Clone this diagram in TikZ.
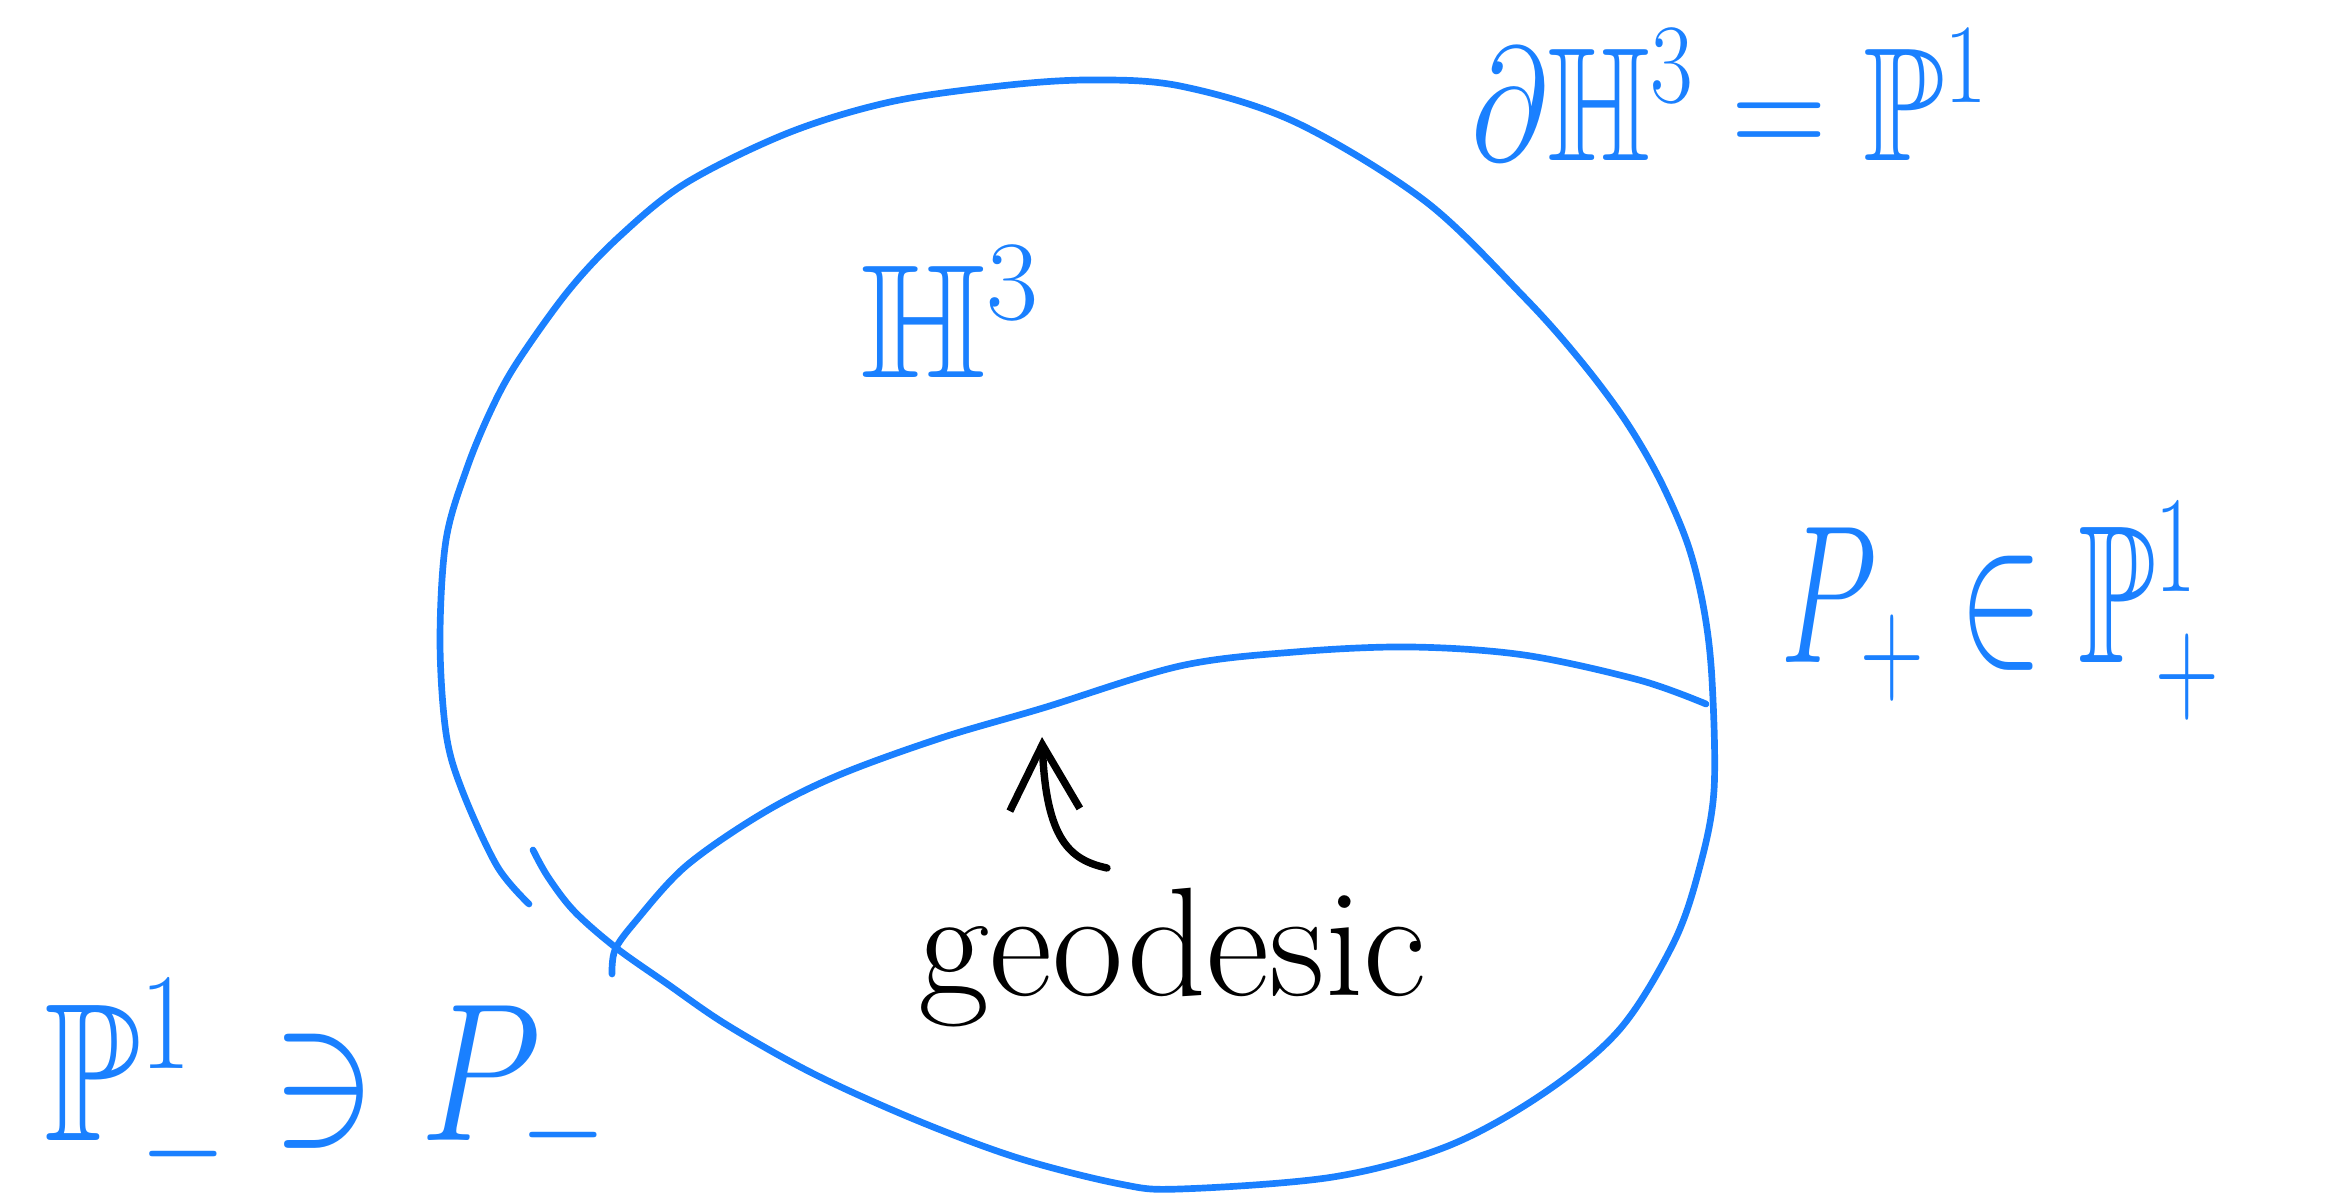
\RequirePackage{fix-cm}
\documentclass[tikz,border=0pt]{standalone}
\usepackage{amssymb}
\usetikzlibrary{arrows.meta}
\definecolor{penblue}{RGB}{26,128,255}

\begin{document}
\begin{tikzpicture}[
    x=0.01cm, y=-0.01cm,
    pen/.style={draw=penblue, line width=1.9pt, line cap=round, line join=round},
    ink/.style={draw=black, line width=2.1pt, line cap=round, line join=round},
    mathlabel/.style={text=penblue, inner sep=0pt, anchor=base west, font=\fontsize{#1}{#1}\selectfont},
    pointer/.style={ink, -{Straight Barb[length=6.5mm, width=7mm]}},
  ]
  \useasboundingbox (0,0) rectangle (2331,1195);

  % Boundary sphere
  \draw[pen] plot[smooth, tension=0.55] coordinates {(529,904) (497,866) (462,790) (446,733) (440,640) (446,540) (467,468) (492,408) (518,361) (569,290) (620,236) (686,183) (788,133) (890,102) (1000,86) (1089,80) (1180,86) (1295,122) (1425,201) (1524,297) (1580,360) (1625,420) (1660,480) (1688,545) (1704,610) (1712,680) (1714,790) (1700,866) (1674,942) (1620,1029) (1544,1093) (1448,1146) (1333,1177) (1180,1189) (1120,1184) (1018,1158) (916,1120) (814,1074) (727,1025) (666,983) (615,947) (574,911) (548,877) (533,850)};

  % Geodesic
  \draw[pen] plot[smooth, tension=0.55] coordinates {(612,974) (615,950) (635,922) (686,866) (763,813) (839,775) (941,738) (1043,708) (1180,666) (1295,652) (1410,647) (1524,655) (1639,680) (1706,704)};

  % Labels
  \node[mathlabel=46] (bdry) at (1471,161) {\scalebox{0.82}[1]{$\partial\mathbb{H}^3=\mathbb{P}^1$}};
  \node[mathlabel=46] (hyp) at (860,378) {$\mathbb{H}^3$};
  \node[mathlabel=56] (pplus) at (1780,663) {\scalebox{0.64}[1]{$P_+\in\mathbb{P}^1_+$}};
  \node[mathlabel=56] (pminus) at (44,1140) {\scalebox{0.8}[1]{$\mathbb{P}^1_-\ni P_-$}};
  \node[inner sep=0pt, anchor=base west, font=\fontsize{44}{44}\selectfont] (geolabel) at (918,995) {geodesic};

  % Pointer to the geodesic
  \coordinate (arrowtail) at (1107,868);
  \coordinate (arrowtip) at (1042,737);
  \draw[pointer] (arrowtail) .. controls (1070,860) and (1046,840) .. (arrowtip);

\end{tikzpicture}
\end{document}
